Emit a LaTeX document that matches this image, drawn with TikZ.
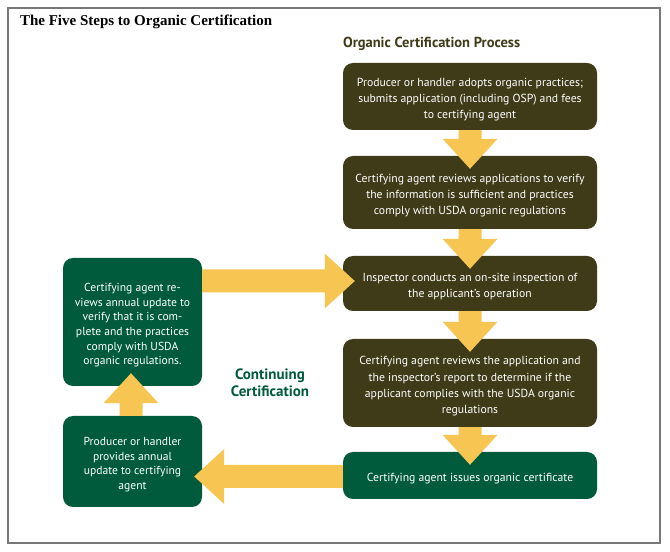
\documentclass[tikz,border=0pt]{standalone}
\usepackage{fontspec}
\setmainfont{PT Sans}
\newfontfamily\titlefont{Liberation Serif}
\usetikzlibrary{calc}
\definecolor{boxolive}{HTML}{3F3A17}
\definecolor{boxgreen}{HTML}{005A3C}
\definecolor{arrowyellow}{HTML}{F6C552}
\definecolor{framegray}{HTML}{777777}
\newcommand\tstrut{\rule{0pt}{14.8pt}}
\newcommand\fatarrow[2]{%
  \coordinate (fa-h) at ($(#2)!30pt!(#1)$);
  \fill[arrowyellow] ($(#1)!11.5pt!90:(#2)$) -- ($(fa-h)!11.5pt!-90:(#1)$) --
    ($(fa-h)!27.5pt!-90:(#1)$) -- (#2) -- ($(fa-h)!27.5pt!90:(#1)$) --
    ($(fa-h)!11.5pt!90:(#1)$) -- ($(#1)!11.5pt!-90:(#2)$) -- cycle;}
\tikzset{
  stepbox/.style={rounded corners=10pt, fill=boxolive, text=white, align=center,
    inner sep=0pt, font=\fontsize{11.7}{16.2}\selectfont},
  greenbox/.style={stepbox, fill=boxgreen},
  sidebox/.style={greenbox, font=\fontsize{11.6}{14.6}\selectfont},
}
\begin{document}
\begin{tikzpicture}[x=1pt,y=1pt]
\useasboundingbox (0,0) rectangle (670,552);
\draw[framegray, line width=1.3pt] (8,9) rectangle (660,544);
\node[anchor=west, font=\titlefont\bfseries\fontsize{15}{17}\selectfont] (title) at (16.5,530) {The Five Steps to Organic Certification};
\node[anchor=west, text=boxolive, font=\bfseries\fontsize{14.5}{17}\selectfont] (proc) at (339.5,508) {Organic Certification Process};
\node[text=boxgreen, align=center, font=\bfseries\fontsize{15}{17.5}\selectfont] (cont) at (270,169) {Continuing\\Certification};

\node[stepbox, minimum width=254pt, minimum height=67pt] (b1) at (470,455.5)
  {\tstrut Producer or handler adopts organic practices;\\submits application (including OSP) and fees\\to certifying agent};
\node[stepbox, minimum width=254pt, minimum height=73pt] (b2) at (470,359.5)
  {\tstrut Certifying agent reviews applications to verify\\the information is sufficient and practices\\comply with USDA organic regulations};
\node[stepbox, minimum width=254pt, minimum height=55pt] (b3) at (470,268.5)
  {\tstrut Inspector conducts an on-site inspection of\\the applicant’s operation};
\node[stepbox, minimum width=254pt, minimum height=88pt] (b4) at (470,169)
  {\tstrut Certifying agent reviews the application and\\the inspector’s report to determine if the\\applicant complies with the USDA organic\\regulations};
\node[greenbox, minimum width=254pt, minimum height=47pt] (b5) at (470,76.5)
  {\tstrut Certifying agent issues organic certificate};
\node[sidebox, minimum width=139pt, minimum height=128pt] (A) at (132.5,230)
  {\tstrut Certifying agent re-\\views annual update to\\verify that it is com-\\plete and the practices\\comply with USDA\\organic regulations.};
\node[sidebox, minimum width=139pt, minimum height=91pt] (B) at (132.5,90.5)
  {\tstrut Producer or handler\\provides annual\\update to certifying\\agent};

\coordinate (s1) at (b1.south); \coordinate (t1) at ($(b2.north)+(0,-13)$);
\coordinate (s2) at (b2.south); \coordinate (t2) at ($(b3.north)+(0,-13)$);
\coordinate (s3) at (b3.south); \coordinate (t3) at ($(b4.north)+(0,-13)$);
\coordinate (s4) at (b4.south); \coordinate (t4) at ($(b5.north)+(0,-13)$);
\coordinate (s5) at ($(A.east |- b3.west)+(0,2.5)$); \coordinate (t5) at ($(b3.west)+(12,2.5)$);
\coordinate (s6) at ($(b5.west)+(0,-1)$); \coordinate (t6) at ($(B.east |- b5.west)+(-8,-1)$);
\coordinate (s7) at ($(B.north)+(-1.5,0)$); \coordinate (t7) at ($(A.south)+(-1.5,13)$);
\fatarrow{s1}{t1}
\fatarrow{s2}{t2}
\fatarrow{s3}{t3}
\fatarrow{s4}{t4}
\fatarrow{s5}{t5}
\fatarrow{s6}{t6}
\fatarrow{s7}{t7}
\end{tikzpicture}
\end{document}
